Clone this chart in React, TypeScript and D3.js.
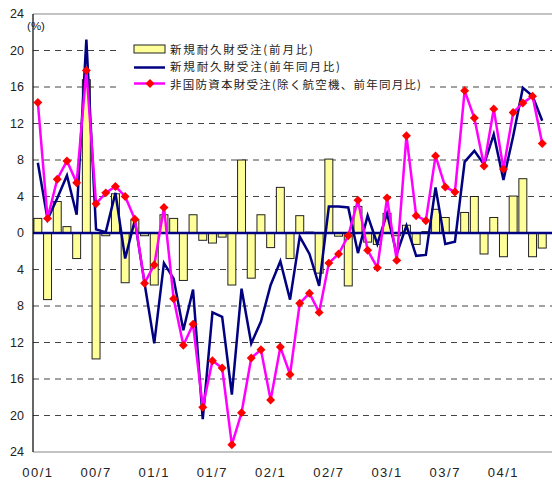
import React, { useEffect } from 'react';
import * as d3 from 'd3';

// months 00/1 .. 04/6 (last one is empty, the frame runs past the picture edge)
const years = ['00', '01', '02', '03', '04'];
const months = years.flatMap((y) => d3.range(1, 13).map((m) => `${y}/${m}`)).slice(0, 54);
const tickLabels = ['00/1', '00/7', '01/1', '01/7', '02/1', '02/7', '03/1', '03/7', '04/1'];
const yTicks = [-24, -20, -16, -12, -8, -4, 0, 4, 8, 12, 16, 20, 24];

const legendLabels = [
  '新規耐久財受注(前月比)',
  '新規耐久財受注(前年同月比)',
  '非国防資本財受注(除く航空機、前年同月比)',
];

// 新規耐久財受注 前月比
const durableMoM = [
  1.6, -7.3, 3.45, 0.7, -2.8, 16.8, -13.8, -0.3, 4.3, -5.45, 1.45, -0.3,
  -5.7, 2.0, 1.6, -5.2, 2.0, -0.8, -1.1, -0.45, -5.7, 8.0, -4.95, 2.0,
  -1.6, 5.0, -2.8, 1.9, 0.1, -4.4, 8.1, -0.35, -5.8, 2.9, -1.0, -1.25,
  2.15, -0.3, 0.85, -1.25, 0.15, 2.6, 1.7, 0.1, 2.25, 4.0, -2.3, 1.7,
  -2.6, 4.05, 5.95, -2.6, -1.65,
];

// 新規耐久財受注 前年同月比
const durableYoY = [
  7.7, 1.5, 3.8, 6.3, 2.0, 21.2, 0.4, 0.1, 4.4, -2.8, 1.4, -5.5,
  -12.1, -3.3, -5.0, -10.65, -6.2, -20.4, -8.7, -9.2, -17.7, -6.1, -12.1, -9.7,
  -5.7, -3.1, -7.3, -0.4, -2.3, -5.8, 2.9, 2.9, 2.8, -2.2, 1.9, -1.2,
  2.15, -2.3, 0.8, -2.5, -2.4, 5.0, -1.2, -0.95, 7.8, 9.0, 7.5, 10.8,
  5.8, 10.6, 15.9, 15.0, 12.3,
];

// 非国防資本財受注(除く航空機) 前年同月比
const capexYoY = [
  14.3, 1.6, 5.9, 7.9, 5.5, 17.8, 3.2, 4.4, 5.1, 4.0, 1.5, -5.5,
  -3.5, 2.8, -7.2, -12.3, -10.0, -19.1, -14.0, -14.8, -23.2, -19.7, -13.7, -12.8,
  -18.3, -12.5, -15.5, -7.7, -6.6, -8.7, -3.3, -2.3, -0.3, 3.6, -1.9, -3.8,
  3.85, -3.0, 10.65, 1.9, 1.35, 8.45, 5.05, 4.5, 15.6, 12.6, 7.35, 13.6,
  7.0, 13.2, 14.25, 15.0, 9.8,
];

const width = 552, height = 483;
const margin = { left: 33, top: 14, bottom: 31 };

export default function App() {
  useEffect(() => {
    document.body.style.margin = '0';
  }, []);

  const x = d3.scaleBand().domain(months).range([margin.left, margin.left + months.length * 9.7]);
  const y = d3.scaleLinear().domain([-24, 24]).range([height - margin.bottom, margin.top]);
  const cx = (i) => x(months[i]) + x.bandwidth() / 2;

  const line = d3.line().x((d, i) => cx(i)).y((d) => y(d));
  const diamond = d3.symbol(d3.symbolSquare, 40)();
  const barW = x.bandwidth() * 0.82;

  const legendWidths = [143, 170, 251];

  return (
    <svg width={width} height={height} style={{ display: 'block', background: '#fff' }}>
      {/* grid */}
      {yTicks.filter((t) => t !== 0 && Math.abs(t) !== 24).map((t) => (
        <line key={t} x1={margin.left} x2={width} y1={y(t)} y2={y(t)}
          stroke="#444" strokeWidth={1} strokeDasharray="6,5" />
      ))}
      <line x1={margin.left} x2={width} y1={y(24)} y2={y(24)} stroke="#888" strokeWidth={1.2} />
      <line x1={margin.left} x2={width} y1={y(-24)} y2={y(-24)} stroke="#888" strokeWidth={1.2} />

      {/* legend background */}
      <rect x={118} y={38} width={312} height={58} fill="#fff" />

      {/* bars */}
      {durableMoM.map((v, i) => (
        <rect key={i} x={cx(i) - barW / 2} width={barW}
          y={y(Math.max(0, v))} height={Math.abs(y(v) - y(0))}
          fill="#ffff99" stroke="#222" strokeWidth={1} />
      ))}

      {/* zero line */}
      <line x1={margin.left} x2={width} y1={y(0)} y2={y(0)} stroke="#000080" strokeWidth={2.5} />

      <path d={line(durableYoY)} fill="none" stroke="#000080" strokeWidth={2.5} strokeLinejoin="miter" />
      <path d={line(capexYoY)} fill="none" stroke="#ff00ff" strokeWidth={2.5} />
      {capexYoY.map((v, i) => (
        <path key={i} d={diamond} transform={`translate(${cx(i)},${y(v)}) rotate(45)`} fill="#ff0000" />
      ))}

      {/* y axis */}
      <line x1={margin.left} x2={margin.left} y1={y(24)} y2={y(-24)} stroke="#000" strokeWidth={1.2} />
      {yTicks.map((t) => (
        <text key={t} x={24} y={y(t)} dy="0.35em" textAnchor="end"
          fontFamily="Liberation Sans, Arial, sans-serif" fontSize={12.5} fill="#222">
          {Math.abs(t)}
        </text>
      ))}
      <text x={36} y={26} dy="0.35em" textAnchor="middle"
        fontFamily="Liberation Sans, Arial, sans-serif" fontSize={11.5} fill="#222">(%)</text>

      {/* x axis labels */}
      {tickLabels.map((t) => (
        <text key={t} x={cx(months.indexOf(t))} y={472} dy="0.35em" textAnchor="middle"
          fontFamily="Liberation Sans, Arial, sans-serif" fontSize={13} letterSpacing={1.5} fill="#222">
          {t}
        </text>
      ))}

      {/* legend */}
      <g fontFamily="Noto Sans CJK JP, sans-serif" fontSize={11.5} fill="#222">
        <rect x={134} y={45} width={31} height={8} fill="#ffff99" stroke="#222" strokeWidth={1} />
        <text x={170} y={49.5} dy="0.35em" textLength={legendWidths[0]} lengthAdjust="spacing">{legendLabels[0]}</text>
        <line x1={134} x2={165} y1={67.5} y2={67.5} stroke="#000080" strokeWidth={2.5} />
        <text x={170} y={67} dy="0.35em" textLength={legendWidths[1]} lengthAdjust="spacing">{legendLabels[1]}</text>
        <line x1={134} x2={165} y1={83.5} y2={83.5} stroke="#ff00ff" strokeWidth={2.5} />
        <path d={diamond} transform="translate(150,83.5) rotate(45)" fill="#ff0000" />
        <text x={170} y={84.5} dy="0.35em" textLength={legendWidths[2]} lengthAdjust="spacing">{legendLabels[2]}</text>
      </g>
    </svg>
  );
}
